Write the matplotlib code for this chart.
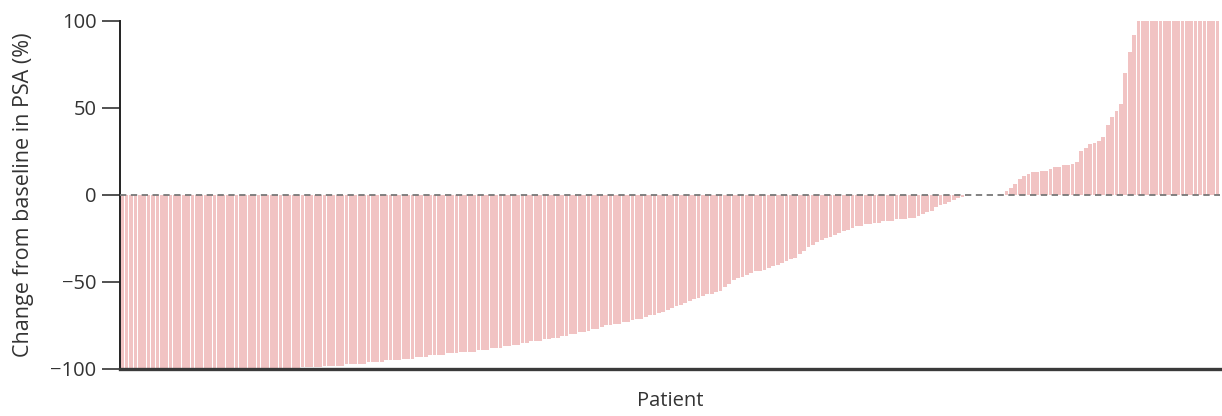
"""Waterfall plot: best change from baseline in PSA per patient."""
import matplotlib
matplotlib.use("Agg")
import matplotlib.pyplot as plt
import numpy as np

plt.rcParams["font.family"] = ["Open Sans", "DejaVu Sans"]

# best PSA change (%) per patient, sorted; values above +100 are capped at 100
psa_change = [
    -100, -100, -100, -100, -100, -100, -100, -100, -100, -100,
    -100, -100, -100, -100, -100, -100, -100, -100, -100, -100,
    -100, -100, -100, -100, -100, -100, -100, -100, -100, -100,
    -100, -100, -100, -100, -100, -100, -100, -100, -100, -100,
    -100,
    -99, -99, -99, -99, -99, -98, -98, -98, -98, -98, -97, -97,
    -97, -97, -97, -96, -96, -96, -96, -95, -95, -95, -95, -94,
    -94, -94, -93, -93, -93, -92, -92, -92, -92, -91, -91, -91,
    -90, -90, -90, -90, -89, -89, -89, -88, -88, -88,
    -87, -87, -86, -86, -85, -85, -84, -84, -84, -83, -83, -82,
    -82, -81, -81, -80, -80, -79, -79, -78, -77, -77, -76,
    -75, -75, -74, -74, -73, -73, -72, -71, -71, -70, -69, -69,
    -68, -67, -66, -65, -64, -63, -62, -61, -60,
    -59, -58, -57, -57, -56, -55, -53, -51, -49, -48, -47, -46,
    -45, -44, -44, -43, -42, -41, -40, -39, -38, -37, -36,
    -34, -32, -30, -29, -27, -26, -25, -24, -23, -22, -21, -20,
    -19, -18, -18, -17, -17, -16, -16, -15,
    -15, -15, -14, -14, -14, -13, -13, -12, -11, -10, -9, -7,
    -6, -5, -4, -3, -2,
    -1, 0, 0, 0, 0, 0, 0, 0, 0, 0, 2,
    4, 6, 9, 11, 12, 13, 13, 14, 14, 15, 16, 16, 17, 17, 18, 19,
    25, 27, 29, 30, 31, 33, 40, 45, 48, 52, 70, 82, 92, 100,
    100, 100, 100, 100, 100, 100, 100, 100, 100, 100, 100, 100,
    100, 100, 100, 100, 100, 100,
]
y_ticks = [-100, -50, 0, 50, 100]

BAR_COLOR = "#f1c3c3"
TEXT_COLOR = "#333333"

fig = plt.figure(figsize=(12.22, 4.16), dpi=100)
ax = fig.add_axes([0.0982, 0.113, 0.9, 0.837])

patients = np.arange(len(psa_change))
ax.bar(patients, psa_change, width=0.86, color=BAR_COLOR, linewidth=0)
ax.axhline(0, color="#777777", lw=1.3, ls=(0, (3.5, 2.5)), zorder=3)

ax.set_xlim(-0.5, len(psa_change) - 0.5)
ax.set_ylim(-100, 100)
ax.set_yticks(y_ticks)
ax.set_xticks([])
ax.tick_params(axis="y", length=13, width=1.2, colors=TEXT_COLOR,
               labelsize=14.5, pad=4)

for side in ("top", "right"):
    ax.spines[side].set_visible(False)
ax.spines["left"].set_linewidth(1.4)
ax.spines["left"].set_color("#222222")
ax.spines["bottom"].set_linewidth(2.4)
ax.spines["bottom"].set_color("#3a3a3a")

ax.set_ylabel("Change from baseline in PSA (%)", fontsize=15.5,
              color=TEXT_COLOR, labelpad=12)
ax.set_xlabel("Patient", fontsize=14.5, color=TEXT_COLOR, labelpad=16)

fig.savefig("out.png", dpi=100)
